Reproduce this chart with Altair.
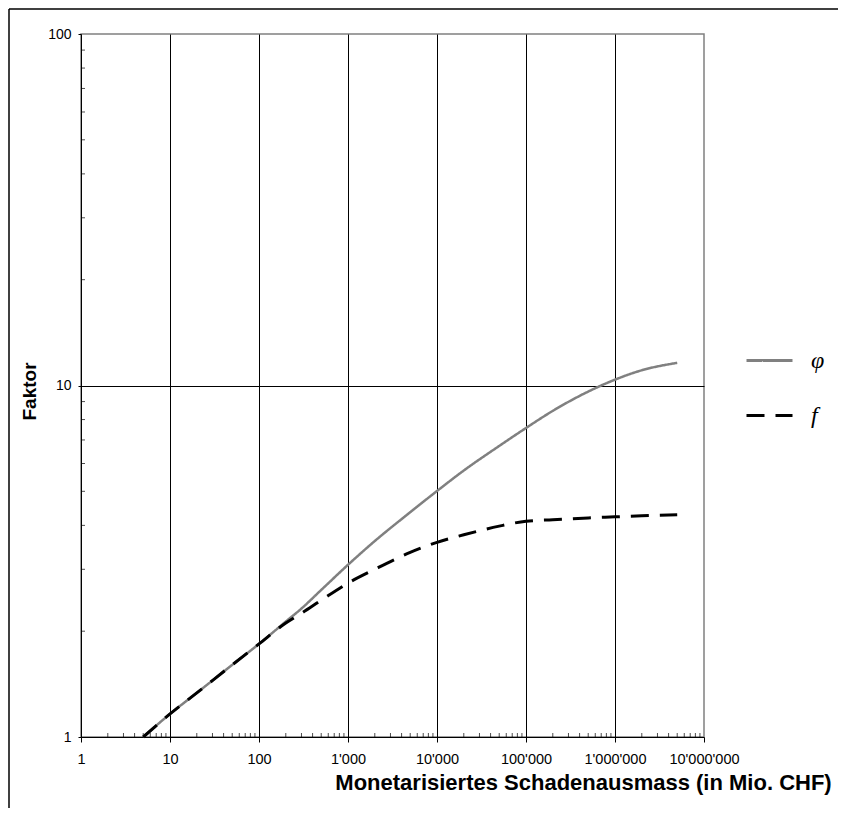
import altair as alt
import pandas as pd

# ---- data ----
x_vals = [5, 10, 20, 50, 100, 200, 300, 500, 1000, 2000, 5000, 10000, 20000,
          50000, 100000, 200000, 500000, 1000000, 2000000, 5000000]
phi_vals = [1.0, 1.163, 1.335, 1.604, 1.84, 2.13, 2.32, 2.62, 3.09, 3.61, 4.36,
            5.01, 5.73, 6.73, 7.57, 8.47, 9.61, 10.39, 11.05, 11.6]
f_vals = [1.0, 1.163, 1.335, 1.604, 1.84, 2.11, 2.25, 2.45, 2.74, 3.0, 3.35,
          3.58, 3.76, 3.98, 4.11, 4.15, 4.2, 4.23, 4.26, 4.29]
series_names = ["φ", "f"]
series_colors = ["#808080", "#000000"]
x_ticks = [1, 10, 100, 1000, 10000, 100000, 1000000, 10000000]
y_ticks = [1, 10, 100]
minor_mult = [2, 3, 4, 5, 6, 7, 8, 9]
x_minor = [m * 10 ** d for d in range(7) for m in minor_mult]
y_minor = [m * 10 ** d for d in range(2) for m in minor_mult]

df = pd.DataFrame({
    "x": x_vals * 2,
    "y": phi_vals + f_vals,
    "s": [series_names[0]] * len(x_vals) + [series_names[1]] * len(x_vals),
})

W, H = 623, 703
PAD = {"left": 73, "top": 26, "right": 134, "bottom": 71}

xscale = alt.Scale(type="log", domain=[1, 10000000], nice=False)
yscale = alt.Scale(type="log", domain=[1, 100], nice=False)

xaxis = alt.Axis(
    values=x_ticks,
    labelExpr="replace(format(datum.value, ','), regexp(',', 'g'), \"'\")",
    labelFont="Liberation Sans", labelFontSize=14.5, labelColor="#000",
    labelPadding=10, labelFlush=False, labelOverlap=False,
    tickSize=5, tickColor="#000", tickWidth=1,
    domainColor="#000", domainWidth=1,
    grid=True, gridColor="#000", gridWidth=1,
    gridOpacity={"condition": {"test": "datum.value >= 10000000 || datum.value <= 1", "value": 0}, "value": 1},
    title="Monetarisiertes Schadenausmass (in Mio. CHF)",
    titleFont="Liberation Sans", titleFontWeight="bold", titleFontSize=22,
    titleColor="#000", titleX=502, titleY=52, titleAlign="center",
    titleBaseline="alphabetic",
)
yaxis = alt.Axis(
    values=y_ticks, format="d",
    labelFont="Liberation Sans", labelFontSize=14, labelColor="#000",
    labelPadding=7, labelFlush=False, labelOverlap=False,
    tickSize=3, tickColor="#000", tickWidth=1,
    domainColor="#000", domainWidth=1,
    grid=True, gridColor="#000", gridWidth=1,
    gridOpacity={"condition": {"test": "datum.value >= 100 || datum.value <= 1", "value": 0}, "value": 1},
    title="Faktor",
    titleFont="Liberation Sans", titleFontWeight="bold", titleFontSize=19,
    titleColor="#000", titleX=-46, titleY=357, titleAlign="center",
    titleBaseline="alphabetic", titleAngle=270,
)

legend = alt.Legend(
    title=None, orient="none", legendX=664, legendY=302,
    symbolType="stroke", symbolSize=2116, symbolStrokeWidth=3,
    labelFont="Liberation Serif", labelFontStyle="italic", labelFontSize=24,
    labelColor="#000", labelOffset=17, rowPadding=18, padding=0,
)

color_enc = alt.Color("s:N", scale=alt.Scale(domain=series_names, range=series_colors), legend=legend)
dash_enc = alt.StrokeDash("s:N", scale=alt.Scale(domain=series_names, range=[[1, 0], [18, 11]]), legend=legend)

base = alt.Chart(df)

phi_line = base.transform_filter(alt.datum.s == series_names[0]).mark_line(
    interpolate="monotone", strokeWidth=2.5, strokeCap="butt"
).encode(
    x=alt.X("x:Q", scale=xscale, axis=xaxis),
    y=alt.Y("y:Q", scale=yscale, axis=yaxis),
    color=color_enc,
    strokeDash=dash_enc,
)

f_line = base.transform_filter(alt.datum.s == series_names[1]).mark_line(
    interpolate="monotone", strokeWidth=3, strokeCap="butt"
).encode(
    x=alt.X("x:Q", scale=xscale),
    y=alt.Y("y:Q", scale=yscale),
    color=color_enc,
    strokeDash=dash_enc,
)

xminor_ticks = alt.Chart(pd.DataFrame({"x": x_minor})).mark_tick(
    orient="vertical", size=4, thickness=1, color="#000", yOffset=-2
).encode(
    x=alt.X("x:Q", scale=xscale),
    y=alt.YDatum(1, scale=yscale),
)

yminor_ticks = alt.Chart(pd.DataFrame({"y": y_minor})).mark_tick(
    orient="horizontal", size=4, thickness=1, color="#000", xOffset=2
).encode(
    y=alt.Y("y:Q", scale=yscale),
    x=alt.XDatum(1, scale=xscale),
)

frame_data = alt.Data(values=[{"k": 0}])
frame_left = alt.Chart(frame_data).mark_rule(color="#000", strokeWidth=1.5).encode(
    x=alt.value(-72), y=alt.value(-25), y2=alt.value(H + PAD["bottom"])
)
frame_top = alt.Chart(frame_data).mark_rule(color="#000", strokeWidth=1.5).encode(
    x=alt.value(-72), x2=alt.value(W + PAD["right"]), y=alt.value(-25)
)

chart = alt.layer(
    phi_line, f_line, xminor_ticks, yminor_ticks, frame_left, frame_top
).properties(
    width=W, height=H, padding=PAD,
    autosize=alt.AutoSizeParams(type="none"),
    background="white",
).configure_view(
    stroke="#808080", strokeWidth=1.5
)

chart.save("out.html", embed_options={"renderer": "svg", "actions": False})
